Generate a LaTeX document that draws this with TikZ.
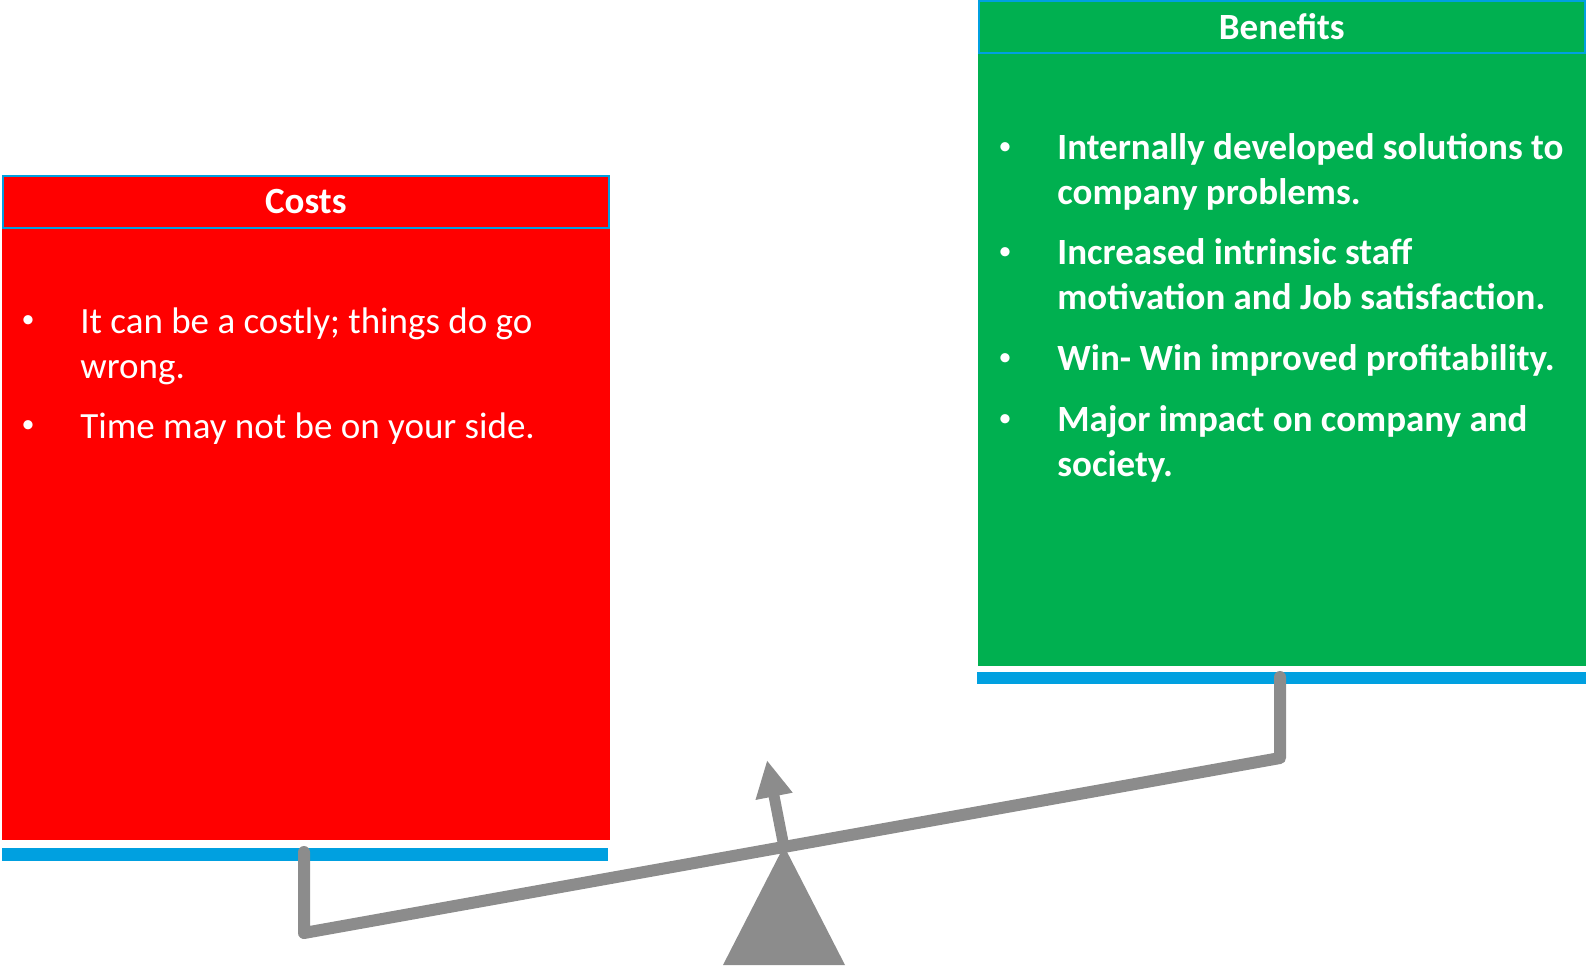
\documentclass[tikz,border=0pt]{standalone}
\usepackage{fontspec}
\setmainfont{Carlito}
\usetikzlibrary{arrows.meta}

\definecolor{costred}{HTML}{FF0000}
\definecolor{gaingreen}{HTML}{00B050}
\definecolor{barblue}{HTML}{00A0E0}
\definecolor{beamgray}{HTML}{8C8C8C}

\begin{document}
\begin{tikzpicture}[
  x=0.5pt,y=-0.5pt,
  head/.style={draw=barblue,line width=.8pt,anchor=north west,inner sep=0pt,minimum width=303pt,minimum height=26pt,text=white,font=\fontsize{18.5}{22.3}\selectfont\bfseries},
  dot/.style={inner sep=0pt,text=white,font=\fontsize{13}{13}\selectfont},
  point/.style={anchor=north west,inner sep=0pt,align=left,text=white,font=\fontsize{18.5}{22.3}\selectfont},
  gain/.style={point,font=\fontsize{18.5}{22.3}\selectfont\bfseries},
  beam/.style={beamgray,line width=6pt,line cap=round,line join=round}
]
  \useasboundingbox (0,0) rectangle (1586,965);

  % the two pans
  \fill[costred] (2,226) rectangle (610,840);
  \fill[gaingreen] (978,53) rectangle (1586,666);
  \fill[barblue] (2,848) rectangle (608,861);
  \fill[barblue] (977,672) rectangle (1586,684);

  \node[head,fill=costred] (costs) at (2,175) {Costs};
  \node[head,fill=gaingreen] (benefits) at (978,0) {Benefits};

  % cost points
  \node[dot] (cdot1) at (28,322) {\textbullet};
  \node[point] (cost1) at (80,302) {\strut It can be a costly; things do go\\wrong.};
  \node[dot] (cdot2) at (28,427) {\textbullet};
  \node[point] (cost2) at (80,407) {\strut Time may not be on your side.};

  % benefit points
  \node[dot] (bdot1) at (1005,149) {\textbullet};
  \node[gain] (gain1) at (1057,128) {\strut Internally developed solutions to\\company problems.};
  \node[dot] (bdot2) at (1005,254) {\textbullet};
  \node[gain] (gain2) at (1057,233) {\strut Increased intrinsic staff\\motivation and Job satisfaction.};
  \node[dot] (bdot3) at (1005,360) {\textbullet};
  \node[gain] (gain3) at (1057,339) {\strut Win- Win improved profitability.};
  \node[dot] (bdot4) at (1005,421) {\textbullet};
  \node[gain] (gain4) at (1057,400) {\strut Major impact on company and\\society.};

  % balance beam
  \coordinate (lhook) at (304,852);
  \coordinate (lend) at (304,933);
  \coordinate (rend) at (1280,758);
  \coordinate (rhook) at (1280,677);
  \coordinate (pivot) at (784,847);
  \coordinate (tip) at (767,760);

  \fill[beamgray] (784,846) -- (845,965) -- (723,965) -- cycle;
  \draw[beam] (lhook) -- (lend) -- (rend) -- (rhook);
  \draw[beam,line width=5.5pt,line cap=butt,-{Triangle[length=18.5pt,width=17.5pt]}] (pivot) -- (tip);
\end{tikzpicture}
\end{document}
